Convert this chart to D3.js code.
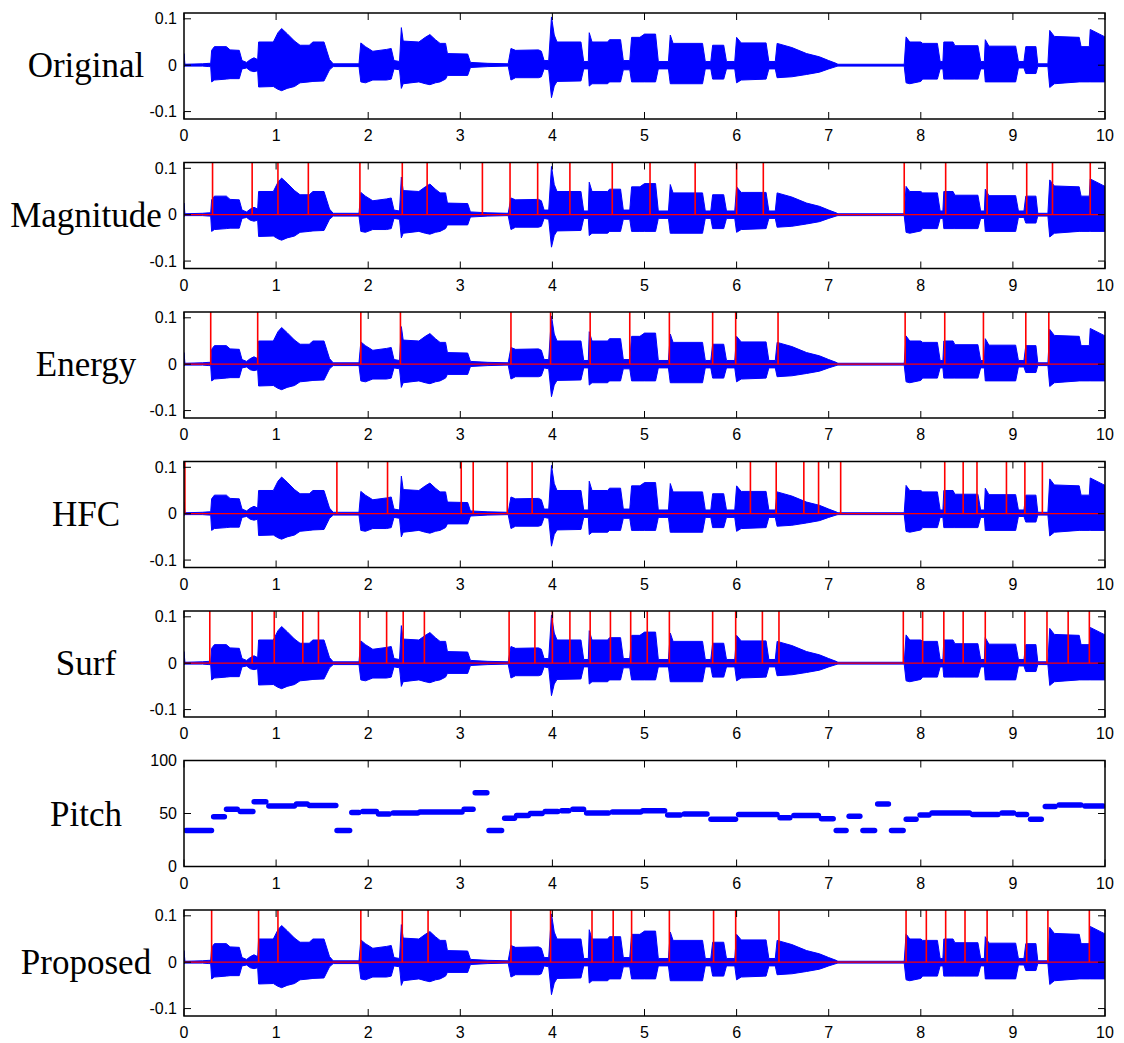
<!DOCTYPE html>
<html>
<head>
<meta charset="utf-8">
<script src="https://cdn.jsdelivr.net/npm/d3@7"></script>
<style>
  body { margin: 0; background: #fff; }
  svg text { fill: #000; }
  .tick-label { font-family: "Liberation Sans", Arial, sans-serif; font-size: 16px; }
  .title { font-family: "Liberation Serif", "Times New Roman", serif; font-size: 35px; }
</style>
</head>
<body>
<div id="viz"></div>
<script>
// Panel names, top to bottom
var panelNames = ["Original", "Magnitude", "Energy", "HFC", "Surf", "Pitch", "Proposed"];

// Waveform envelope (time in s, upper / lower amplitude)
var envT  = [0.00, 0.01, 0.20, 0.27, 0.29, 0.30, 0.33, 0.46, 0.50, 0.60, 0.63, 0.68, 0.72, 0.76, 0.80,
             0.81, 0.97, 1.02, 1.06, 1.12, 1.20, 1.26, 1.36, 1.40, 1.52, 1.58, 1.62, 1.90,
             1.92, 1.97, 2.05, 2.20, 2.25, 2.28, 2.34, 2.36, 2.38, 2.55, 2.62, 2.67, 2.73, 2.78, 2.84,
             2.86, 3.08, 3.11, 3.30, 3.52, 3.55, 3.60, 3.85, 3.88, 3.91, 3.96, 3.99, 4.02, 4.05,
             4.31, 4.34, 4.39, 4.40, 4.43, 4.60, 4.62, 4.74, 4.77, 4.84, 4.86, 4.95, 5.00, 5.12,
             5.15, 5.26, 5.28, 5.31, 5.63, 5.66, 5.72, 5.74, 5.86, 5.89, 5.98, 6.00, 6.05, 6.32,
             6.35, 6.42, 6.44, 6.60, 6.76, 6.90, 7.00, 7.08, 7.10, 7.82, 7.84, 7.88, 8.00, 8.02,
             8.18, 8.21, 8.24, 8.25, 8.35, 8.37, 8.62, 8.65, 8.69, 8.70, 8.74, 9.03, 9.06, 9.12,
             9.14, 9.25, 9.27, 9.38, 9.40, 9.45, 9.72, 9.74, 9.83, 9.84, 10.0];
var envHi = [0.025, 0.002, 0.003, 0.004, 0.004, 0.032, 0.040, 0.040, 0.033, 0.032, 0.010, 0.006, 0.012, 0.016, 0.012,
             0.050, 0.050, 0.070, 0.079, 0.068, 0.052, 0.043, 0.043, 0.050, 0.050, 0.012, 0.003, 0.003,
             0.048, 0.040, 0.030, 0.034, 0.036, 0.010, 0.008, 0.081, 0.052, 0.050, 0.060, 0.066, 0.055, 0.047, 0.047,
             0.025, 0.024, 0.006, 0.004, 0.003, 0.036, 0.032, 0.033, 0.030, 0.010, 0.010, 0.104, 0.065, 0.050,
             0.050, 0.008, 0.008, 0.070, 0.050, 0.050, 0.055, 0.055, 0.010, 0.010, 0.060, 0.060, 0.067, 0.067,
             0.008, 0.008, 0.065, 0.047, 0.047, 0.008, 0.008, 0.043, 0.043, 0.008, 0.008, 0.060, 0.048, 0.048,
             0.008, 0.008, 0.047, 0.038, 0.025, 0.018, 0.010, 0.004, 0.002, 0.002, 0.061, 0.050, 0.050, 0.047,
             0.047, 0.008, 0.008, 0.050, 0.050, 0.042, 0.042, 0.008, 0.008, 0.055, 0.041, 0.041, 0.008, 0.008,
             0.040, 0.040, 0.003, 0.003, 0.075, 0.062, 0.060, 0.040, 0.040, 0.077, 0.061];
var envLo = [-0.004, -0.002, -0.002, -0.003, -0.003, -0.036, -0.032, -0.030, -0.029, -0.029, -0.008, -0.006, -0.012, -0.014, -0.012,
             -0.047, -0.046, -0.052, -0.055, -0.050, -0.046, -0.038, -0.036, -0.035, -0.034, -0.010, -0.003, -0.003,
             -0.036, -0.038, -0.032, -0.032, -0.030, -0.008, -0.010, -0.050, -0.040, -0.036, -0.040, -0.042, -0.038, -0.036, -0.030,
             -0.022, -0.022, -0.005, -0.003, -0.002, -0.032, -0.027, -0.027, -0.025, -0.008, -0.010, -0.070, -0.045, -0.035,
             -0.034, -0.008, -0.008, -0.045, -0.040, -0.040, -0.036, -0.036, -0.010, -0.010, -0.036, -0.036, -0.036, -0.036,
             -0.008, -0.008, -0.040, -0.040, -0.040, -0.008, -0.008, -0.030, -0.030, -0.008, -0.008, -0.038, -0.032, -0.030,
             -0.008, -0.008, -0.027, -0.025, -0.020, -0.015, -0.008, -0.003, -0.002, -0.002, -0.038, -0.040, -0.035, -0.030,
             -0.030, -0.008, -0.008, -0.030, -0.030, -0.030, -0.030, -0.008, -0.008, -0.036, -0.036, -0.036, -0.006, -0.006,
             -0.018, -0.018, -0.003, -0.003, -0.048, -0.040, -0.036, -0.036, -0.036, -0.036, -0.036];

// Detected onsets (s) for each method
var magnitudeOnsets = [0.31, 0.74, 1.02, 1.35, 1.91, 2.37, 2.64, 3.24, 3.54, 3.84, 4.19, 4.65, 5.06, 5.55,
                       6.00, 6.29, 7.82, 8.27, 8.72, 9.15, 9.43, 9.84];
var energyOnsets = [0.29, 0.80, 1.92, 2.35, 3.55, 3.98, 4.41, 4.84, 5.27, 5.74, 5.99, 6.45, 7.83, 8.26,
                    8.68, 9.14, 9.39];
var hfcOnsets = [0.01, 1.66, 2.21, 3.01, 3.14, 3.51, 3.78, 6.15, 6.43, 6.73, 6.89, 7.13, 8.26, 8.46,
                 8.61, 8.93, 9.13, 9.32];
var surfOnsets = [0.28, 0.74, 0.98, 1.29, 1.46, 1.91, 2.20, 2.38, 2.61, 3.53, 3.81, 4.00, 4.19, 4.41,
                  4.63, 4.85, 5.03, 5.27, 5.74, 5.99, 6.28, 6.46, 7.81, 8.02, 8.25, 8.46, 8.70, 9.13,
                  9.37, 9.60, 9.83];
var proposedOnsets = [0.30, 0.81, 1.02, 1.92, 2.37, 2.65, 3.55, 3.98, 4.43, 4.66, 4.86, 5.27, 5.75, 5.99,
                      6.46, 7.84, 8.06, 8.27, 8.48, 8.72, 9.15, 9.38, 9.83];

// Pitch segments: start, end, value
var pitchStart = [0.00, 0.30, 0.44, 0.59, 0.74, 0.90, 1.20, 1.34, 1.64, 1.80, 1.92, 2.09, 2.25, 2.54,
                  3.02, 3.14, 3.29, 3.46, 3.59, 3.74, 3.90, 4.08, 4.20, 4.35, 4.63, 4.96, 5.23, 5.41,
                  5.70, 6.00, 6.45, 6.60, 6.90, 7.06, 7.20, 7.35, 7.51, 7.66, 7.82, 7.97, 8.10, 8.54,
                  8.86, 9.03, 9.17, 9.33, 9.48, 9.76];
var pitchEnd   = [0.32, 0.46, 0.60, 0.77, 0.91, 1.22, 1.36, 1.67, 1.82, 1.92, 2.11, 2.25, 2.56, 3.04,
                  3.16, 3.31, 3.47, 3.61, 3.76, 3.91, 4.08, 4.20, 4.36, 4.63, 4.98, 5.24, 5.41, 5.70,
                  6.01, 6.46, 6.60, 6.91, 7.07, 7.21, 7.36, 7.52, 7.67, 7.83, 7.97, 8.11, 8.55, 8.86,
                  9.03, 9.17, 9.33, 9.48, 9.76, 10.0];
var pitchVal   = [34, 47, 54, 52, 61, 57, 59, 57.5, 34, 51, 52, 49.5, 50.5, 51.5,
                  54, 69.5, 34, 45.5, 48, 50, 52, 52.5, 54, 50.5, 51.5, 52.5, 48.5, 49.5,
                  44.5, 49, 46, 48, 45, 34, 47.5, 34, 59, 34, 44.5, 48.5, 50.5, 49,
                  50.5, 49, 44.5, 56.5, 58, 57];

var xTicks = [0, 1, 2, 3, 4, 5, 6, 7, 8, 9, 10];
var waveTicks = [-0.1, 0, 0.1];
var pitchTicks = [0, 50, 100];

var panelOnsets = [null, magnitudeOnsets, energyOnsets, hfcOnsets, surfOnsets, null, proposedOnsets];

var width = 1124, height = 1043;
var left = 184, right = 1105;
var panelH = 106, panelGap = 149.5, firstTop = 13;
var tickLen = 7;

var svg = d3.select("#viz").append("svg")
    .attr("width", width)
    .attr("height", height);

var x = d3.scaleLinear().domain([0, 10]).range([left, right]);

var wave = envT.map(function(t, i) { return { t: t, hi: envHi[i], lo: envLo[i] }; });

panelNames.forEach(function(name, i) {
    var top = firstTop + i * panelGap;
    var bottom = top + panelH;
    var isPitch = name === "Pitch";
    var y = isPitch
        ? d3.scaleLinear().domain([0, 100]).range([bottom, top])
        : d3.scaleLinear().domain([-0.116, 0.1125]).range([bottom, top]);

    var g = svg.append("g");

    g.append("defs").append("clipPath").attr("id", "clip" + i)
        .append("rect").attr("x", left).attr("y", top).attr("width", right - left).attr("height", panelH);

    var plot = g.append("g").attr("clip-path", "url(#clip" + i + ")");

    if (isPitch) {
        plot.selectAll("line.pitch")
            .data(pitchVal)
            .enter().append("line")
            .attr("class", "pitch")
            .attr("x1", function(d, k) { return x(pitchStart[k]) + 2; })
            .attr("x2", function(d, k) { return x(pitchEnd[k]) - 2; })
            .attr("y1", function(d) { return y(d); })
            .attr("y2", function(d) { return y(d); })
            .attr("stroke", "#0000ff")
            .attr("stroke-width", 5.5)
            .attr("stroke-linecap", "round");
    } else {
        var area = d3.area()
            .x(function(d) { return x(d.t); })
            .y0(function(d) { return y(d.lo); })
            .y1(function(d) { return y(d.hi); });
        plot.append("path")
            .datum(wave)
            .attr("d", area)
            .attr("fill", "#0000ff")
            .attr("stroke", "#0000ff")
            .attr("stroke-width", 1);

        var onsets = panelOnsets[i];
        if (onsets) {
            plot.append("line")
                .attr("x1", left).attr("x2", right)
                .attr("y1", y(0)).attr("y2", y(0))
                .attr("stroke", "#ff0000")
                .attr("stroke-width", 1.3);
            plot.selectAll("line.onset")
                .data(onsets)
                .enter().append("line")
                .attr("class", "onset")
                .attr("x1", function(d) { return x(d); })
                .attr("x2", function(d) { return x(d); })
                .attr("y1", y(0))
                .attr("y2", top)
                .attr("stroke", "#ff0000")
                .attr("stroke-width", 1.6);
        }
    }

    // Box
    g.append("rect")
        .attr("x", left).attr("y", top)
        .attr("width", right - left).attr("height", panelH)
        .attr("fill", "none")
        .attr("stroke", "#000")
        .attr("stroke-width", 1.5);

    // X ticks (inside, top and bottom)
    xTicks.forEach(function(t) {
        g.append("line").attr("x1", x(t)).attr("x2", x(t))
            .attr("y1", bottom).attr("y2", bottom - tickLen)
            .attr("stroke", "#000");
        g.append("line").attr("x1", x(t)).attr("x2", x(t))
            .attr("y1", top).attr("y2", top + tickLen)
            .attr("stroke", "#000");
        g.append("text").attr("class", "tick-label")
            .attr("x", x(t)).attr("y", bottom + 22)
            .attr("text-anchor", "middle")
            .text(t);
    });

    // Y ticks
    var yt = isPitch ? pitchTicks : waveTicks;
    yt.forEach(function(v) {
        g.append("line").attr("x1", left).attr("x2", left + tickLen)
            .attr("y1", y(v)).attr("y2", y(v)).attr("stroke", "#000");
        g.append("line").attr("x1", right).attr("x2", right - tickLen)
            .attr("y1", y(v)).attr("y2", y(v)).attr("stroke", "#000");
        g.append("text").attr("class", "tick-label")
            .attr("x", left - 7).attr("y", y(v) + 5.5)
            .attr("text-anchor", "end")
            .text(v);
    });

    // Panel title
    g.append("text").attr("class", "title")
        .attr("x", 86)
        .attr("y", (isPitch ? y(50) : y(0)) + 12)
        .attr("text-anchor", "middle")
        .text(name);
});
</script>
</body>
</html>
